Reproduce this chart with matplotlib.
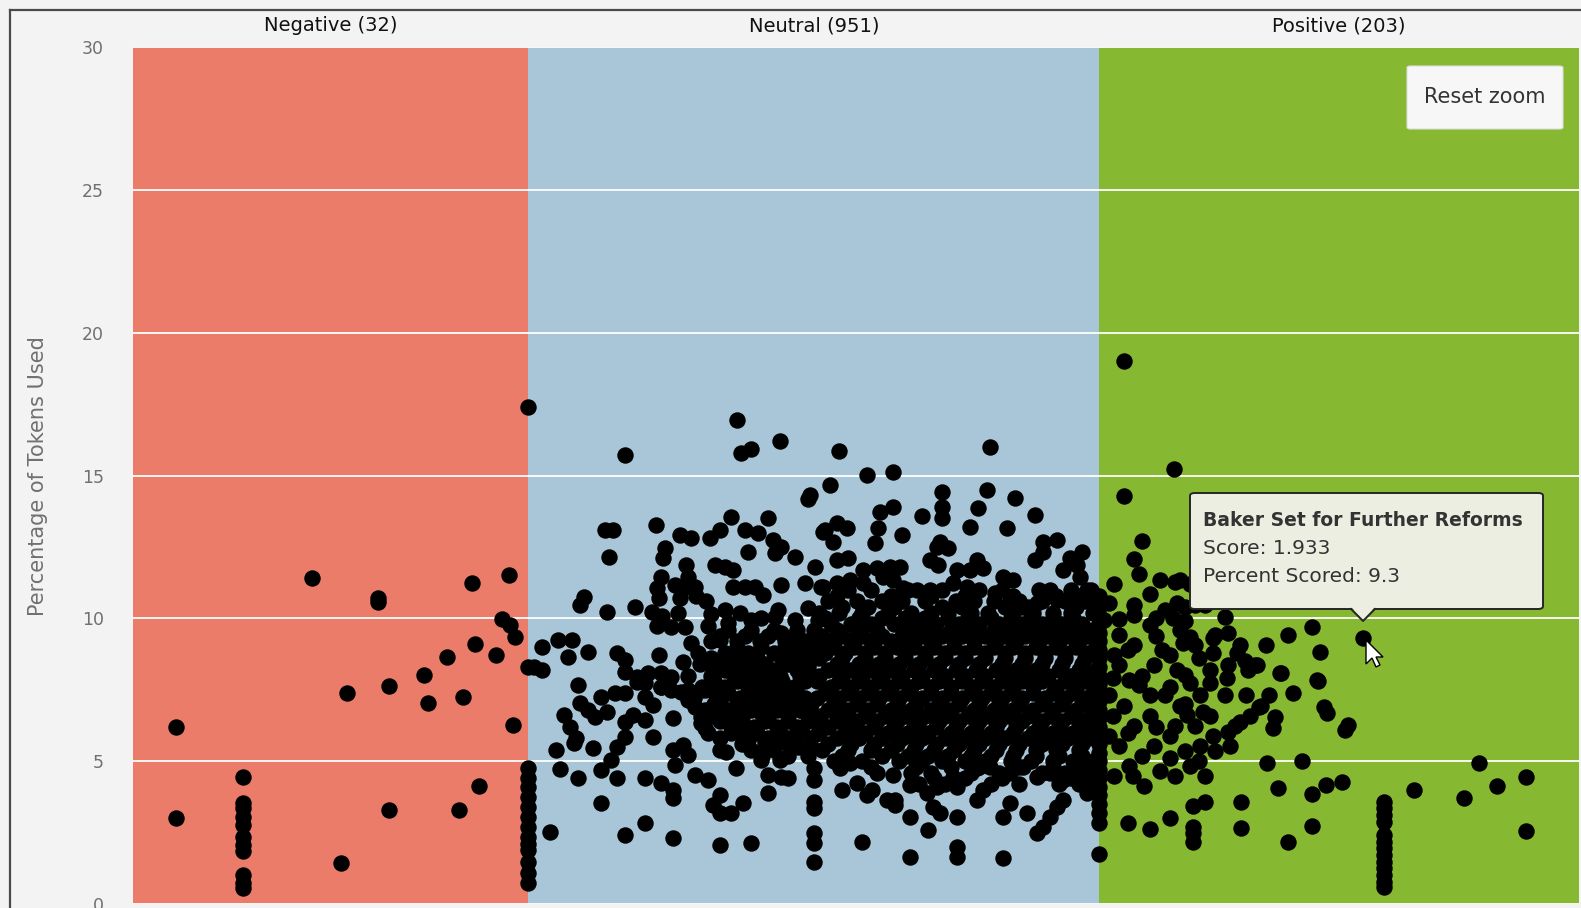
import matplotlib
matplotlib.use("Agg")
import matplotlib.pyplot as plt
from matplotlib.patches import FancyBboxPatch, Polygon
from matplotlib.lines import Line2D

# band limits (score) and labels
band_edges = [-2.386, -1.0, 1.0, 2.682]
band_labels = ["Negative (32)", "Neutral (951)", "Positive (203)"]
band_colors = ["#ec7c6a", "#a9c6d8", "#87b832"]

# negative articles: (score, percent)
neg_points = [
    (-2.235, 6.2), (-2.235, 3.0), (-1.758, 11.42), (-1.635, 7.39), (-1.656, 1.45),
    (-1.527, 10.72), (-1.527, 10.58), (-1.488, 7.64), (-1.49, 3.3), (-1.365, 8.02),
    (-1.352, 7.04), (-1.285, 8.65), (-1.242, 3.3), (-1.229, 7.25), (-1.198, 11.24),
    (-1.187, 9.11), (-1.172, 4.15), (-1.114, 8.72), (-1.092, 9.98), (-1.068, 11.52),
    (-1.064, 9.77), (-1.047, 9.35), (-1.054, 6.27), (-1.0, 17.4),
]
neg_col_score = -2.0
neg_col_pct = [4.45, 3.55, 3.35, 3.05, 2.75, 2.35, 2.05, 1.85, 1.0, 0.75, 0.55]

# neutral articles, scattered part
neu_points = [
    (-0.662, 15.74), (-0.27, 16.94), (-0.256, 15.78), (-0.221, 15.95), (-0.117, 16.2),
    (0.087, 15.88), (0.186, 15.03), (0.277, 15.13), (0.618, 15.99), (-0.019, 14.19),
    (-0.012, 14.33), (0.056, 14.68), (0.575, 13.87), (0.94, 12.32),
    (0.449, 14.43), (0.449, 13.91), (0.449, 13.52), (0.607, 14.5), (0.705, 14.22),
    (0.775, 13.63), (0.379, 13.59), (0.277, 13.91), (0.232, 13.73), (0.225, 13.17),
    (0.309, 12.92), (0.214, 12.64), (0.547, 13.2), (0.677, 13.17), (0.039, 13.1),
    (0.081, 13.35), (0.116, 13.17), (0.067, 12.68), (0.442, 12.68), (0.432, 12.5),
    (0.47, 12.47), (0.804, 12.68), (0.853, 12.75), (0.804, 12.33), (0.775, 12.05),
    (0.081, 12.05), (0.12, 12.12), (0.172, 11.7), (0.221, 11.77), (0.267, 11.8),
    (0.302, 11.8), (0.407, 12.05), (0.435, 11.87), (0.572, 12.05), (0.593, 11.77),
    (0.547, 11.7), (0.663, 11.45), (0.698, 11.35), (0.502, 11.7), (0.898, 12.12),
    (0.923, 11.87), (0.933, 11.45), (0.874, 11.7), (0.958, 11.0), (0.979, 10.65),
    (0.828, 11.0), (0.853, 10.65), (0.635, 10.89), (0.684, 10.54), (0.733, 10.4),
    (0.782, 10.54), (0.032, 11.1), (0.081, 11.24), (0.126, 11.35), (0.172, 11.24),
    (0.242, 11.45), (0.277, 11.35), (0.312, 11.07), (0.361, 11.0), (0.407, 11.0),
    (0.488, 11.24), (0.537, 11.1),
    (-0.73, 13.1), (-0.705, 13.1), (-0.716, 12.15), (-0.554, 13.27), (-0.523, 12.47),
    (-0.53, 12.12), (-0.47, 12.93), (-0.432, 12.82), (-0.537, 11.45), (-0.551, 11.07),
    (-0.544, 10.72), (-0.449, 11.87), (-0.442, 11.45), (-0.453, 11.1), (-0.418, 11.1),
    (-0.488, 11.17), (-0.47, 10.72), (-0.365, 12.82), (-0.33, 13.1), (-0.291, 13.55),
    (-0.242, 13.1), (-0.196, 13.0), (-0.161, 13.52), (-0.144, 12.75), (-0.116, 12.5),
    (-0.137, 12.29), (-0.232, 12.33), (-0.347, 11.87), (-0.312, 11.8), (-0.284, 11.7),
    (-0.284, 11.1), (-0.242, 11.1), (-0.207, 11.1), (-0.179, 10.82), (-0.116, 11.17),
    (-0.067, 12.15), (-0.032, 11.24), (0.004, 11.8), (0.032, 13.03),
    (-0.804, 10.75), (-0.818, 10.47), (-0.723, 10.23), (-0.628, 10.4), (-0.568, 10.23),
    (-0.551, 9.74), (-0.533, 10.09), (-0.477, 10.19), (-0.453, 9.7), (-0.502, 9.7),
    (-0.414, 10.79), (-0.379, 10.61), (-0.361, 10.16), (-0.372, 9.74), (-0.312, 10.3),
    (-0.302, 9.84), (-0.26, 10.19), (-0.221, 9.95), (-0.186, 10.02), (-0.137, 10.05),
    (-0.126, 10.3), (-0.067, 9.95), (-0.021, 10.37), (0.014, 9.95), (0.025, 11.1),
    (-0.951, 9.0), (-0.898, 9.25), (-0.846, 9.25), (-0.863, 8.65), (-0.793, 8.83),
    (-0.979, 8.3), (-0.951, 8.2), (-0.828, 7.67), (-0.688, 8.79), (-0.66, 8.55),
    (-0.663, 8.13), (-0.544, 8.72), (-0.46, 8.48), (-0.432, 9.14), (-0.407, 8.79),
    (-0.365, 8.44), (-0.33, 8.55), (-0.33, 9.25), (-0.256, 8.44), (-0.207, 8.48),
    (-0.186, 9.0), (-0.618, 7.95), (-0.582, 8.09), (-0.537, 8.09), (-0.502, 7.95),
    (-0.537, 7.6), (-0.593, 7.74), (-0.442, 7.5), (-0.382, 7.5), (-0.326, 7.5),
    (-0.277, 8.3), (-0.242, 7.85), (-0.186, 7.74), (-0.161, 8.09), (-0.137, 7.85),
    (-0.116, 9.49), (-0.091, 9.25), (-0.067, 9.0), (-0.046, 8.65), (-0.021, 8.3),
    (0.004, 9.25), (0.025, 8.79), (0.004, 7.95),
    (-0.874, 6.62), (-0.905, 5.39), (-0.888, 4.73), (-0.828, 4.41), (-0.923, 2.52),
    (-0.853, 6.2), (-0.835, 5.81), (-0.839, 5.64), (-0.775, 5.46), (-0.747, 4.69),
    (-0.747, 3.54), (-0.712, 5.04), (-0.688, 5.5), (-0.688, 4.41), (-0.663, 5.85),
    (-0.663, 2.42), (-0.66, 6.37), (-0.635, 6.62), (-0.593, 6.44), (-0.565, 5.85),
    (-0.593, 4.41), (-0.593, 2.84), (-0.537, 4.24), (-0.495, 6.51), (-0.495, 5.39),
    (-0.488, 4.87), (-0.495, 3.99), (-0.495, 3.71), (-0.495, 2.31), (-0.46, 5.57),
    (-0.442, 5.22), (-0.418, 4.52), (-0.372, 4.34), (-0.396, 6.34), (-0.372, 5.99),
    (-0.33, 5.81), (-0.33, 5.39), (-0.309, 5.32), (-0.33, 3.82), (-0.354, 3.47),
    (-0.33, 3.19), (-0.291, 3.19), (-0.249, 3.54), (-0.33, 2.07), (-0.274, 4.76),
    (-0.221, 2.14), (-0.186, 5.04), (-0.161, 4.52), (-0.116, 4.45), (-0.091, 4.41),
    (-0.161, 3.89), (-0.119, 5.04), (-0.172, 5.64), (-0.137, 5.67), (-0.102, 5.67),
    (-0.818, 7.04), (-0.793, 6.8), (-0.768, 6.55), (-0.747, 7.25), (-0.723, 6.72),
    (-0.698, 7.39), (-0.66, 7.39), (-0.618, 7.78), (-0.593, 7.25), (-0.565, 6.97),
    (-0.537, 7.6), (-0.502, 7.5), (-0.467, 7.43), (-0.442, 7.15), (-0.418, 6.9),
    (-0.396, 7.5), (-0.347, 7.39), (-0.33, 7.04), (-0.396, 6.55), (-0.382, 6.16),
    (-0.302, 6.44), (-0.267, 6.69), (-0.232, 6.9), (-0.197, 6.97), (-0.186, 6.69),
    (-0.161, 6.44), (-0.256, 6.09), (-0.232, 5.74), (-0.186, 7.5), (-0.161, 7.74),
    (-0.126, 7.74), (-0.091, 7.5), (-0.067, 7.15), (-0.046, 6.8), (-0.011, 6.55),
    (0.025, 6.34), (0.014, 5.99), (-0.011, 5.5), (-0.056, 5.5), (-0.046, 6.09),
    (0.091, 4.76), (0.126, 4.94), (0.098, 3.99), (0.151, 4.24), (0.186, 3.82),
    (0.204, 3.99), (0.277, 4.52), (0.284, 3.64), (0.337, 4.17), (0.337, 3.05),
    (0.4, 2.59), (0.396, 3.89), (0.432, 4.1), (0.418, 3.4), (0.442, 3.19),
    (0.502, 3.05), (0.502, 2.0), (0.502, 1.65), (0.337, 1.65), (0.168, 2.17),
    (0.572, 3.64), (0.593, 3.99), (0.663, 3.05), (0.688, 3.54), (0.663, 1.61),
    (0.747, 3.19), (0.782, 2.49), (0.804, 2.7), (0.828, 3.05), (0.853, 3.4),
    (0.874, 3.64), (0.782, 4.45), (0.828, 4.59), (0.874, 4.34), (0.958, 3.89),
    (0.502, 4.1), (0.488, 4.45), (0.572, 4.76), (0.617, 4.8), (0.688, 4.59),
    (0.733, 4.8), (0.256, 3.64), (0.284, 3.47),
]

# neutral articles in the dense core, one row of scores per percent level
neu_rows = [
    (11.0, [0.12, 0.2, 0.33, 0.45, 0.58, 0.66, 0.79, 0.9, 0.97]),
    (10.8, [0.08, 0.27, 0.41, 0.53, 0.7, 0.85, 0.93]),
    (10.6, [0.05, 0.15, 0.24, 0.31, 0.39, 0.5, 0.56, 0.63, 0.72, 0.8, 0.88, 0.95]),
    (10.4, [0.1, 0.19, 0.28, 0.45, 0.52, 0.67, 0.75, 0.92]),
    (10.2, [0.02, 0.09, 0.17, 0.26, 0.34, 0.41, 0.47, 0.55, 0.61, 0.7, 0.77, 0.84, 0.9, 0.98]),
    (10.0, [0.04, 0.16, 0.24, 0.32, 0.39, 0.47, 0.54, 0.62, 0.69, 0.76, 0.84, 0.91]),
    (9.8, [0.06, 0.13, 0.2, 0.28, 0.36, 0.43, 0.51, 0.58, 0.65, 0.73, 0.8, 0.87, 0.94]),
    (9.6, [0.0, 0.08, 0.15, 0.22, 0.33, 0.4, 0.48, 0.55, 0.63, 0.7, 0.78, 0.85, 0.92, 0.98]),
    (9.4, [0.03, 0.1, 0.17, 0.24, 0.31, 0.38, 0.45, 0.52, 0.6, 0.67, 0.74, 0.82, 0.89, 0.96]),
    (9.2, [0.05, 0.13, 0.2, 0.27, 0.34, 0.41, 0.49, 0.56, 0.64, 0.71, 0.79, 0.86, 0.93]),
    (9.0, [0.07, 0.14, 0.21, 0.29, 0.35, 0.42, 0.49, 0.56, 0.63, 0.7, 0.78, 0.85, 0.92, 0.99]),
    (8.8, [0.04, 0.11, 0.18, 0.25, 0.32, 0.39, 0.46, 0.53, 0.6, 0.67, 0.74, 0.81, 0.88, 0.96]),
    (8.6, [0.02, 0.1, 0.18, 0.25, 0.32, 0.39, 0.46, 0.53, 0.6, 0.67, 0.74, 0.81, 0.88, 0.95]),
    (8.4, [0.08, 0.16, 0.23, 0.3, 0.37, 0.44, 0.51, 0.58, 0.66, 0.73, 0.8, 0.87, 0.94]),
    (8.2, [0.05, 0.13, 0.2, 0.27, 0.35, 0.42, 0.5, 0.57, 0.64, 0.71, 0.78, 0.86, 0.93, 0.99]),
    (8.0, [0.02, 0.1, 0.17, 0.24, 0.31, 0.38, 0.46, 0.53, 0.6, 0.68, 0.75, 0.82, 0.9, 0.97]),
    (7.8, [0.01, 0.09, 0.16, 0.23, 0.3, 0.37, 0.44, 0.52, 0.59, 0.66, 0.73, 0.8, 0.88, 0.95]),
    (7.6, [0.06, 0.13, 0.2, 0.27, 0.34, 0.41, 0.48, 0.56, 0.63, 0.7, 0.77, 0.85, 0.92, 0.99]),
    (7.4, [0.04, 0.12, 0.19, 0.26, 0.33, 0.41, 0.48, 0.55, 0.62, 0.69, 0.77, 0.84, 0.91, 0.98]),
    (7.2, [0.01, 0.09, 0.16, 0.23, 0.3, 0.38, 0.45, 0.52, 0.59, 0.66, 0.73, 0.81, 0.88, 0.95]),
    (7.0, [0.07, 0.15, 0.22, 0.29, 0.36, 0.44, 0.51, 0.58, 0.65, 0.72, 0.8, 0.87, 0.94]),
    (6.8, [0.05, 0.12, 0.19, 0.27, 0.34, 0.41, 0.48, 0.56, 0.63, 0.7, 0.77, 0.84, 0.92, 0.98]),
    (6.6, [0.02, 0.1, 0.18, 0.25, 0.32, 0.39, 0.46, 0.54, 0.61, 0.68, 0.75, 0.83, 0.9, 0.97]),
    (6.4, [0.08, 0.15, 0.22, 0.29, 0.37, 0.44, 0.51, 0.58, 0.65, 0.73, 0.8, 0.87, 0.94]),
    (6.2, [0.05, 0.13, 0.21, 0.28, 0.35, 0.43, 0.5, 0.57, 0.64, 0.71, 0.79, 0.86, 0.93, 0.99]),
    (6.0, [0.02, 0.11, 0.18, 0.26, 0.33, 0.4, 0.48, 0.55, 0.62, 0.7, 0.77, 0.84, 0.91, 0.98]),
    (5.8, [0.08, 0.16, 0.24, 0.31, 0.38, 0.46, 0.53, 0.6, 0.67, 0.75, 0.82, 0.89, 0.96]),
    (5.6, [0.05, 0.13, 0.21, 0.29, 0.36, 0.43, 0.51, 0.58, 0.65, 0.72, 0.8, 0.87, 0.94]),
    (5.4, [0.03, 0.12, 0.2, 0.27, 0.35, 0.42, 0.49, 0.56, 0.64, 0.71, 0.78, 0.85, 0.93]),
    (5.2, [0.1, 0.24, 0.33, 0.4, 0.47, 0.55, 0.62, 0.7, 0.78, 0.86, 0.94]),
    (5.0, [0.07, 0.17, 0.3, 0.38, 0.45, 0.53, 0.6, 0.69, 0.76, 0.84, 0.91, 0.98]),
    (4.8, [0.2, 0.36, 0.48, 0.58, 0.72, 0.84, 0.93]),
    (4.6, [0.22, 0.34, 0.41, 0.55, 0.65, 0.8, 0.88, 0.95]),
    (4.4, [0.42, 0.53, 0.66, 0.9, 0.97]),
    (4.2, [0.37, 0.46, 0.62, 0.72, 0.86, 0.93]),
    (9.6, [-0.3, -0.22, -0.14, -0.06]),
    (9.4, [-0.33, -0.24, -0.16, -0.07, 0.0]),
    (9.2, [-0.36, -0.27, -0.19, -0.1, -0.03]),
    (9.0, [-0.27, -0.1, -0.02]),
    (8.8, [-0.31, -0.23, -0.14, -0.07]),
    (8.6, [-0.36, -0.28, -0.2, -0.11, -0.03]),
    (8.4, [-0.4, -0.33, -0.25, -0.17, -0.09, -0.02]),
    (8.2, [-0.31, -0.23, -0.14, -0.06]),
    (8.0, [-0.44, -0.36, -0.28, -0.2, -0.12, -0.05]),
    (7.8, [-0.35, -0.27, -0.19, -0.11, -0.03]),
    (7.6, [-0.39, -0.31, -0.23, -0.15, -0.07]),
    (7.4, [-0.3, -0.22, -0.14, -0.06]),
    (7.2, [-0.42, -0.34, -0.26, -0.18, -0.1, -0.03]),
    (7.0, [-0.35, -0.27, -0.15, -0.08, -0.01]),
    (6.8, [-0.38, -0.3, -0.22, -0.13, -0.05]),
    (6.6, [-0.35, -0.25, -0.17, -0.09]),
    (6.4, [-0.33, -0.25, -0.17, -0.09, -0.02]),
    (6.2, [-0.29, -0.21, -0.13, -0.06]),
    (6.0, [-0.29, -0.2, -0.12, -0.04]),
    (5.8, [-0.16, -0.09, -0.01]),
    (5.6, [-0.25, -0.15, -0.07]),
    (5.4, [-0.22, -0.14]),
    (5.2, [-0.18, -0.09, -0.02]),
]

# neutral articles sitting exactly on whole scores
neu_cols = [
    (-1.0, [8.3, 4.76, 4.4, 4.1, 3.75, 3.4, 3.05, 2.7, 2.35, 2.1, 1.9, 1.47, 1.09, 0.74]),
    (0.0, [1.48, 2.14, 2.49, 3.36, 3.57, 4.34, 4.76]),
    (1.0, [1.75, 2.84, 3.2, 3.5, 3.8, 4.1, 4.4, 4.7, 5.0, 5.3, 5.6, 5.9, 6.2, 6.5, 6.8,
           7.1, 7.4, 7.7, 8.0, 8.3, 8.6, 8.9, 9.2, 9.5, 9.8, 10.1, 10.4, 10.8]),
]

# positive articles
pos_points = [
    (1.089, 19.0), (1.262, 15.25), (1.089, 14.3), (1.152, 12.7), (1.926, 9.3),
    (1.663, 9.42), (1.747, 9.7), (1.775, 8.83), (1.637, 8.08), (1.68, 7.38),
    (1.768, 7.8), (1.284, 11.35), (1.273, 10.54), (1.302, 10.4), (1.442, 10.05),
    (1.319, 9.35), (1.295, 9.14), (1.4, 9.32), (1.452, 9.49), (1.484, 8.79),
    (1.523, 8.2), (1.554, 8.37), (1.635, 8.09), (1.765, 7.85), (1.39, 7.74),
    (1.273, 8.2), (1.319, 7.74),
    (1.589, 4.94), (1.712, 5.0), (1.628, 4.06), (1.747, 3.85), (1.796, 4.17),
    (1.853, 4.27), (2.105, 3.99), (2.28, 3.7), (2.33, 4.94), (2.393, 4.13),
    (2.495, 4.45), (2.495, 2.56), (1.498, 3.57), (1.498, 2.66), (1.747, 2.73),
    (1.663, 2.17), (1.33, 2.7), (1.33, 2.49), (1.33, 2.17), (1.33, 3.43),
    (1.372, 3.57), (1.249, 3.01), (1.179, 2.63), (1.102, 2.84), (1.561, 6.9),
    (1.617, 6.55), (1.61, 6.16), (1.79, 6.9), (1.8, 6.69), (1.863, 6.1),
    (1.874, 6.27), (1.453, 6.02), (1.495, 6.37), (1.309, 6.62), (1.365, 6.72),
    (1.07, 9.99), (1.124, 10.48), (1.177, 10.84), (1.212, 11.33), (1.265, 11.26),
    (1.318, 11.19), (1.371, 10.48), (1.495, 9.07), (1.548, 8.37),
    (1.566, 6.95), (1.477, 6.25), (1.442, 7.31), (1.389, 8.19), (1.336, 9.07),
    (1.283, 9.6), (1.23, 10.31), (1.177, 9.78), (1.124, 9.07), (1.07, 8.37),
    (1.035, 7.31), (1.088, 6.95), (1.141, 7.66), (1.194, 8.37), (1.247, 8.72),
    (1.3, 8.01), (1.354, 7.31), (1.389, 6.6), (1.336, 6.25), (1.283, 6.95),
    (1.23, 7.31), (1.177, 6.6), (1.124, 6.25), (1.07, 5.54), (1.035, 5.89),
    (1.194, 5.54), (1.247, 5.89), (1.3, 5.37), (1.354, 5.54), (1.406, 5.37),
    (1.318, 4.84), (1.265, 4.48), (1.212, 4.66), (1.159, 4.13), (1.106, 4.84),
    (1.053, 4.48), (1.22, 8.9), (1.07, 9.42), (1.141, 11.54), (1.336, 10.48),
    (1.406, 9.42), (1.452, 8.37), (1.516, 7.31), (1.177, 7.31), (1.106, 7.84),
    (1.053, 8.72), (1.017, 9.95), (1.035, 10.55), (1.124, 10.13), (1.265, 6.25),
    (1.371, 4.48), (1.53, 6.6), (1.594, 7.31), (1.46, 5.54), (1.053, 11.19),
    (1.124, 12.07), (1.584, 9.07), (1.513, 8.5),
    (1.05, 6.6), (1.1, 6.0), (1.15, 5.2), (1.2, 6.2), (1.25, 7.6), (1.3, 7.0),
    (1.15, 8.0), (1.1, 8.9), (1.2, 9.4), (1.26, 10.0), (1.05, 7.9), (1.4, 5.9),
    (1.35, 5.0), (1.25, 5.1), (1.12, 4.5), (1.2, 10.0), (1.3, 9.9), (1.4, 8.8),
    (1.45, 7.9), (1.35, 8.6),
]
pos_col_score = 2.0
pos_col_pct = [3.57, 3.36, 3.12, 2.87, 2.42, 2.17, 1.96, 1.72, 1.47, 1.26, 1.02, 0.77, 0.6]

tip_title = "Baker Set for Further Reforms"
tip_score = 1.933
tip_pct = 9.3

xs, ys = [], []
for x, y in neg_points + neu_points + pos_points:
    xs.append(x)
    ys.append(y)
for y in neg_col_pct:
    xs.append(neg_col_score)
    ys.append(y)
for y in pos_col_pct:
    xs.append(pos_col_score)
    ys.append(y)
for y, row in neu_rows:
    for x in row:
        xs.append(x)
        ys.append(y)
for x, col in neu_cols:
    for y in col:
        xs.append(x)
        ys.append(y)

W, H = 1581, 908
fig = plt.figure(figsize=(W / 100, H / 100), dpi=100, facecolor="#f3f3f3")
ax = fig.add_axes([133 / W, 4 / H, 1446 / W, 856.6 / H])

for i in range(3):
    ax.axvspan(band_edges[i], band_edges[i + 1], color=band_colors[i], lw=0, zorder=0)
    ax.text((band_edges[i] + band_edges[i + 1]) / 2, 1.025, band_labels[i],
            transform=ax.get_xaxis_transform(), ha="center", va="center",
            fontsize=14, color="#111111")

ax.scatter(xs, ys, s=140, color="black", lw=0, zorder=3)

ax.set_xlim(band_edges[0], band_edges[-1])
ax.set_ylim(0, 30)
ax.set_yticks(range(0, 31, 5))
ax.set_xticks([])
ax.set_axisbelow(True)
ax.yaxis.grid(True, color="white", lw=1.3)
for s in ax.spines.values():
    s.set_visible(False)
ax.tick_params(axis="y", length=0, pad=21, labelsize=12.5, labelcolor="#707070")
ax.set_ylabel("Percentage of Tokens Used", fontsize=15, color="#707070")
ax.yaxis.set_label_coords((48 - 133) / 1446, 0.5)

# screenshot frame
fig.add_artist(Line2D([10 / W, 10 / W], [0, 1 - 10 / H], transform=fig.transFigure,
                      color="#4a4a4a", lw=1.6))
fig.add_artist(Line2D([10 / W, 1], [1 - 10 / H, 1 - 10 / H], transform=fig.transFigure,
                      color="#4a4a4a", lw=1.6))

# reset zoom button
fig.add_artist(FancyBboxPatch((1407 / W, 1 - 129 / H), 156 / W, 63 / H,
                              boxstyle="round,pad=0,rounding_size=0.002",
                              transform=fig.transFigure, fc="#f7f7f7", ec="#dddddd", lw=0.8))
fig.text(1485 / W, 1 - 97 / H, "Reset zoom", ha="center", va="center",
         fontsize=15, color="#333333")

# tooltip
fc_tip = "#eceee1"
fig.add_artist(FancyBboxPatch((1190 / W, 1 - 609 / H), 353 / W, 116 / H,
                              boxstyle="round,pad=0,rounding_size=0.003",
                              transform=fig.transFigure, fc=fc_tip, ec="#262626", lw=1.4,
                              zorder=5))
tri = [(1351 / W, 1 - 607 / H), (1363 / W, 1 - 620 / H), (1375 / W, 1 - 607 / H)]
fig.add_artist(Polygon(tri, closed=True, transform=fig.transFigure, fc=fc_tip, ec="none",
                       zorder=6))
fig.add_artist(Line2D([1351 / W, 1363 / W, 1375 / W], [1 - 609 / H, 1 - 621 / H, 1 - 609 / H],
                      transform=fig.transFigure, color="#262626", lw=1.4, zorder=6))
fig.text(1203 / W, 1 - 520 / H, tip_title, fontsize=13.5, fontweight="bold",
         color="#333333", va="center", zorder=7)
fig.text(1203 / W, 1 - 548 / H, f"Score: {tip_score}", fontsize=14.5,
         color="#333333", va="center", zorder=7)
fig.text(1203 / W, 1 - 576 / H, f"Percent Scored: {tip_pct}", fontsize=14.5,
         color="#333333", va="center", zorder=7)

# mouse pointer
cur = [(0, 0), (0, 24), (6, 18), (10, 27), (14, 25), (10, 17), (17, 17)]
fig.add_artist(Polygon([((1366 + dx) / W, 1 - (640 + dy) / H) for dx, dy in cur],
                       closed=True, transform=fig.transFigure, fc="white", ec="black",
                       lw=1.0, zorder=8))

fig.savefig("out.png", dpi=100, facecolor=fig.get_facecolor())
